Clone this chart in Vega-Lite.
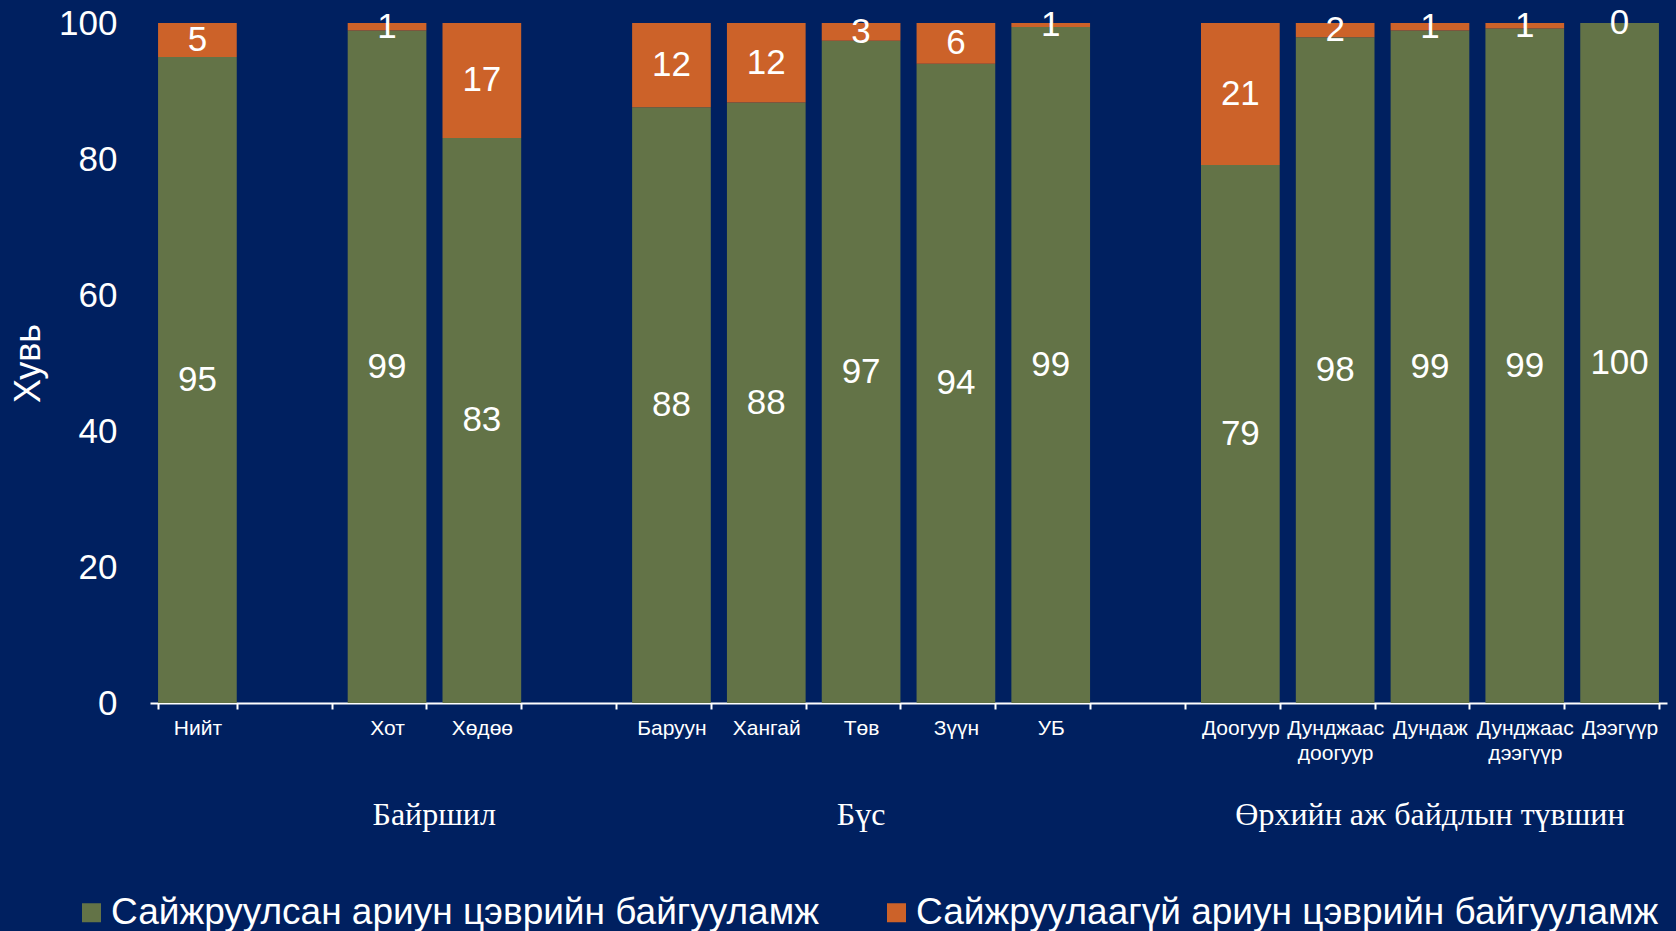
{
  "$schema": "https://vega.github.io/schema/vega-lite/v6.json",
  "width": 1517,
  "height": 680,
  "autosize": {"type": "none"},
  "padding": {"left": 150, "top": 23, "right": 9, "bottom": 228},
  "background": "#002060",
  "config": {
    "view": {"stroke": null},
    "font": "Liberation Sans",
    "axisY": {"tickCount": 5}
  },
  "data": {
    "values": [
      {"cat": "Нийт", "type": "Сайжруулсан ариун цэврийн байгууламж", "value": 95},
      {"cat": "Нийт", "type": "Сайжруулаагүй ариун цэврийн байгууламж", "value": 5},
      {"cat": "Хот", "type": "Сайжруулсан ариун цэврийн байгууламж", "value": 98.9},
      {"cat": "Хот", "type": "Сайжруулаагүй ариун цэврийн байгууламж", "value": 1.1},
      {"cat": "Хөдөө", "type": "Сайжруулсан ариун цэврийн байгууламж", "value": 83.1},
      {"cat": "Хөдөө", "type": "Сайжруулаагүй ариун цэврийн байгууламж", "value": 16.9},
      {"cat": "Баруун", "type": "Сайжруулсан ариун цэврийн байгууламж", "value": 87.6},
      {"cat": "Баруун", "type": "Сайжруулаагүй ариун цэврийн байгууламж", "value": 12.4},
      {"cat": "Хангай", "type": "Сайжруулсан ариун цэврийн байгууламж", "value": 88.3},
      {"cat": "Хангай", "type": "Сайжруулаагүй ариун цэврийн байгууламж", "value": 11.7},
      {"cat": "Төв", "type": "Сайжруулсан ариун цэврийн байгууламж", "value": 97.4},
      {"cat": "Төв", "type": "Сайжруулаагүй ариун цэврийн байгууламж", "value": 2.6},
      {"cat": "Зүүн", "type": "Сайжруулсан ариун цэврийн байгууламж", "value": 94},
      {"cat": "Зүүн", "type": "Сайжруулаагүй ариун цэврийн байгууламж", "value": 6},
      {"cat": "УБ", "type": "Сайжруулсан ариун цэврийн байгууламж", "value": 99.4},
      {"cat": "УБ", "type": "Сайжруулаагүй ариун цэврийн байгууламж", "value": 0.6},
      {"cat": "Доогуур", "type": "Сайжруулсан ариун цэврийн байгууламж", "value": 79.1},
      {"cat": "Доогуур", "type": "Сайжруулаагүй ариун цэврийн байгууламж", "value": 20.9},
      {"cat": "Дунджаас доогуур", "type": "Сайжруулсан ариун цэврийн байгууламж", "value": 97.9},
      {"cat": "Дунджаас доогуур", "type": "Сайжруулаагүй ариун цэврийн байгууламж", "value": 2.1},
      {"cat": "Дундаж", "type": "Сайжруулсан ариун цэврийн байгууламж", "value": 98.9},
      {"cat": "Дундаж", "type": "Сайжруулаагүй ариун цэврийн байгууламж", "value": 1.1},
      {"cat": "Дунджаас дээгүүр", "type": "Сайжруулсан ариун цэврийн байгууламж", "value": 99.2},
      {"cat": "Дунджаас дээгүүр", "type": "Сайжруулаагүй ариун цэврийн байгууламж", "value": 0.8},
      {"cat": "Дээгүүр", "type": "Сайжруулсан ариун цэврийн байгууламж", "value": 100},
      {"cat": "Дээгүүр", "type": "Сайжруулаагүй ариун цэврийн байгууламж", "value": 0}
    ]
  },
  "layer": [
    {
      "mark": {"type": "bar"},
      "encoding": {
        "x": {
          "field": "cat", "type": "nominal", "title": null,
          "scale": {
            "domain": ["Нийт", "_1", "Хот", "Хөдөө", "_2", "Баруун", "Хангай", "Төв", "Зүүн", "УБ", "_3", "Доогуур", "Дунджаас доогуур", "Дундаж", "Дунджаас дээгүүр", "Дээгүүр"],
            "paddingInner": 0.17, "paddingOuter": 0.085
          },
          "axis": {
            "labelAngle": 0,
            "labelExpr": "isString(datum.value) && indexof(datum.value,'_') != 0 ? split(datum.value,' ') : ''",
            "labelFontSize": 21, "labelColor": "white", "labelLineHeight": 25,
            "labelPadding": 8, "labelLimit": 300,
            "tickBand": "extent", "tickSize": 6, "tickColor": "white", "tickWidth": 2,
            "domainColor": "white", "domainWidth": 2, "grid": false
          }
        },
        "y": {
          "field": "value", "type": "quantitative", "stack": "zero", "title": "Хувь",
          "scale": {"domain": [0, 100]},
          "axis": {
            "grid": false, "domain": false, "ticks": false, "tickSize": 0,
            "labelPadding": 33, "labelFontSize": 35, "labelColor": "white",
            "titleFontSize": 36, "titleColor": "white", "titleFontWeight": "normal",
            "titleAngle": -90, "titleX": -111, "titleY": 340,
            "titleBaseline": "alphabetic", "titleAlign": "center"
          }
        },
        "color": {
          "field": "type", "type": "nominal",
          "scale": {
            "domain": ["Сайжруулсан ариун цэврийн байгууламж", "Сайжруулаагүй ариун цэврийн байгууламж"],
            "range": ["#637347", "#CC6229"]
          },
          "legend": {
            "orient": "none", "legendX": -77, "legendY": 871,
            "direction": "horizontal", "title": null,
            "labelFontSize": 37, "labelColor": "white", "labelOffset": 1, "labelLimit": 1000,
            "symbolType": "square", "symbolSize": 361, "symbolStrokeWidth": 0, "symbolOpacity": 1,
            "columnPadding": 59
          }
        },
        "order": {"field": "type", "sort": "descending"}
      }
    },
    {
      "transform": [
        {"stack": "value", "groupby": ["cat"], "sort": [{"field": "type", "order": "descending"}], "as": ["v0", "v1"]},
        {"calculate": "(datum.v0 + datum.v1) / 2", "as": "mid"}
      ],
      "mark": {"type": "text", "color": "white", "fontSize": 35, "baseline": "middle"},
      "encoding": {
        "x": {
          "field": "cat", "type": "nominal", "title": null,
          "scale": {
            "domain": ["Нийт", "_1", "Хот", "Хөдөө", "_2", "Баруун", "Хангай", "Төв", "Зүүн", "УБ", "_3", "Доогуур", "Дунджаас доогуур", "Дундаж", "Дунджаас дээгүүр", "Дээгүүр"],
            "paddingInner": 0.17, "paddingOuter": 0.085
          }
        },
        "y": {"field": "mid", "type": "quantitative", "title": "Хувь"},
        "text": {"field": "value", "type": "quantitative", "format": ".0f"}
      }
    },
    {
      "data": {"values": [{"cat": "Хот", "group": "Байршил"}]},
      "mark": {"type": "text", "color": "white", "font": "Liberation Serif", "fontSize": 32, "baseline": "middle", "dy": 112},
      "encoding": {
        "x": {
          "field": "cat", "type": "nominal", "title": null, "bandPosition": 1.1,
          "scale": {
            "domain": ["Нийт", "_1", "Хот", "Хөдөө", "_2", "Баруун", "Хангай", "Төв", "Зүүн", "УБ", "_3", "Доогуур", "Дунджаас доогуур", "Дундаж", "Дунджаас дээгүүр", "Дээгүүр"],
            "paddingInner": 0.17, "paddingOuter": 0.085
          }
        },
        "y": {"datum": 0, "type": "quantitative", "title": "Хувь"},
        "text": {"field": "group"}
      }
    },
    {
      "data": {"values": [{"cat": "Төв", "group": "Бүс"}, {"cat": "Дундаж", "group": "Өрхийн аж байдлын түвшин"}]},
      "mark": {"type": "text", "color": "white", "font": "Liberation Serif", "fontSize": 32, "baseline": "middle", "dy": 112},
      "encoding": {
        "x": {
          "field": "cat", "type": "nominal", "title": null,
          "scale": {
            "domain": ["Нийт", "_1", "Хот", "Хөдөө", "_2", "Баруун", "Хангай", "Төв", "Зүүн", "УБ", "_3", "Доогуур", "Дунджаас доогуур", "Дундаж", "Дунджаас дээгүүр", "Дээгүүр"],
            "paddingInner": 0.17, "paddingOuter": 0.085
          }
        },
        "y": {"datum": 0, "type": "quantitative", "title": "Хувь"},
        "text": {"field": "group"}
      }
    }
  ]
}
